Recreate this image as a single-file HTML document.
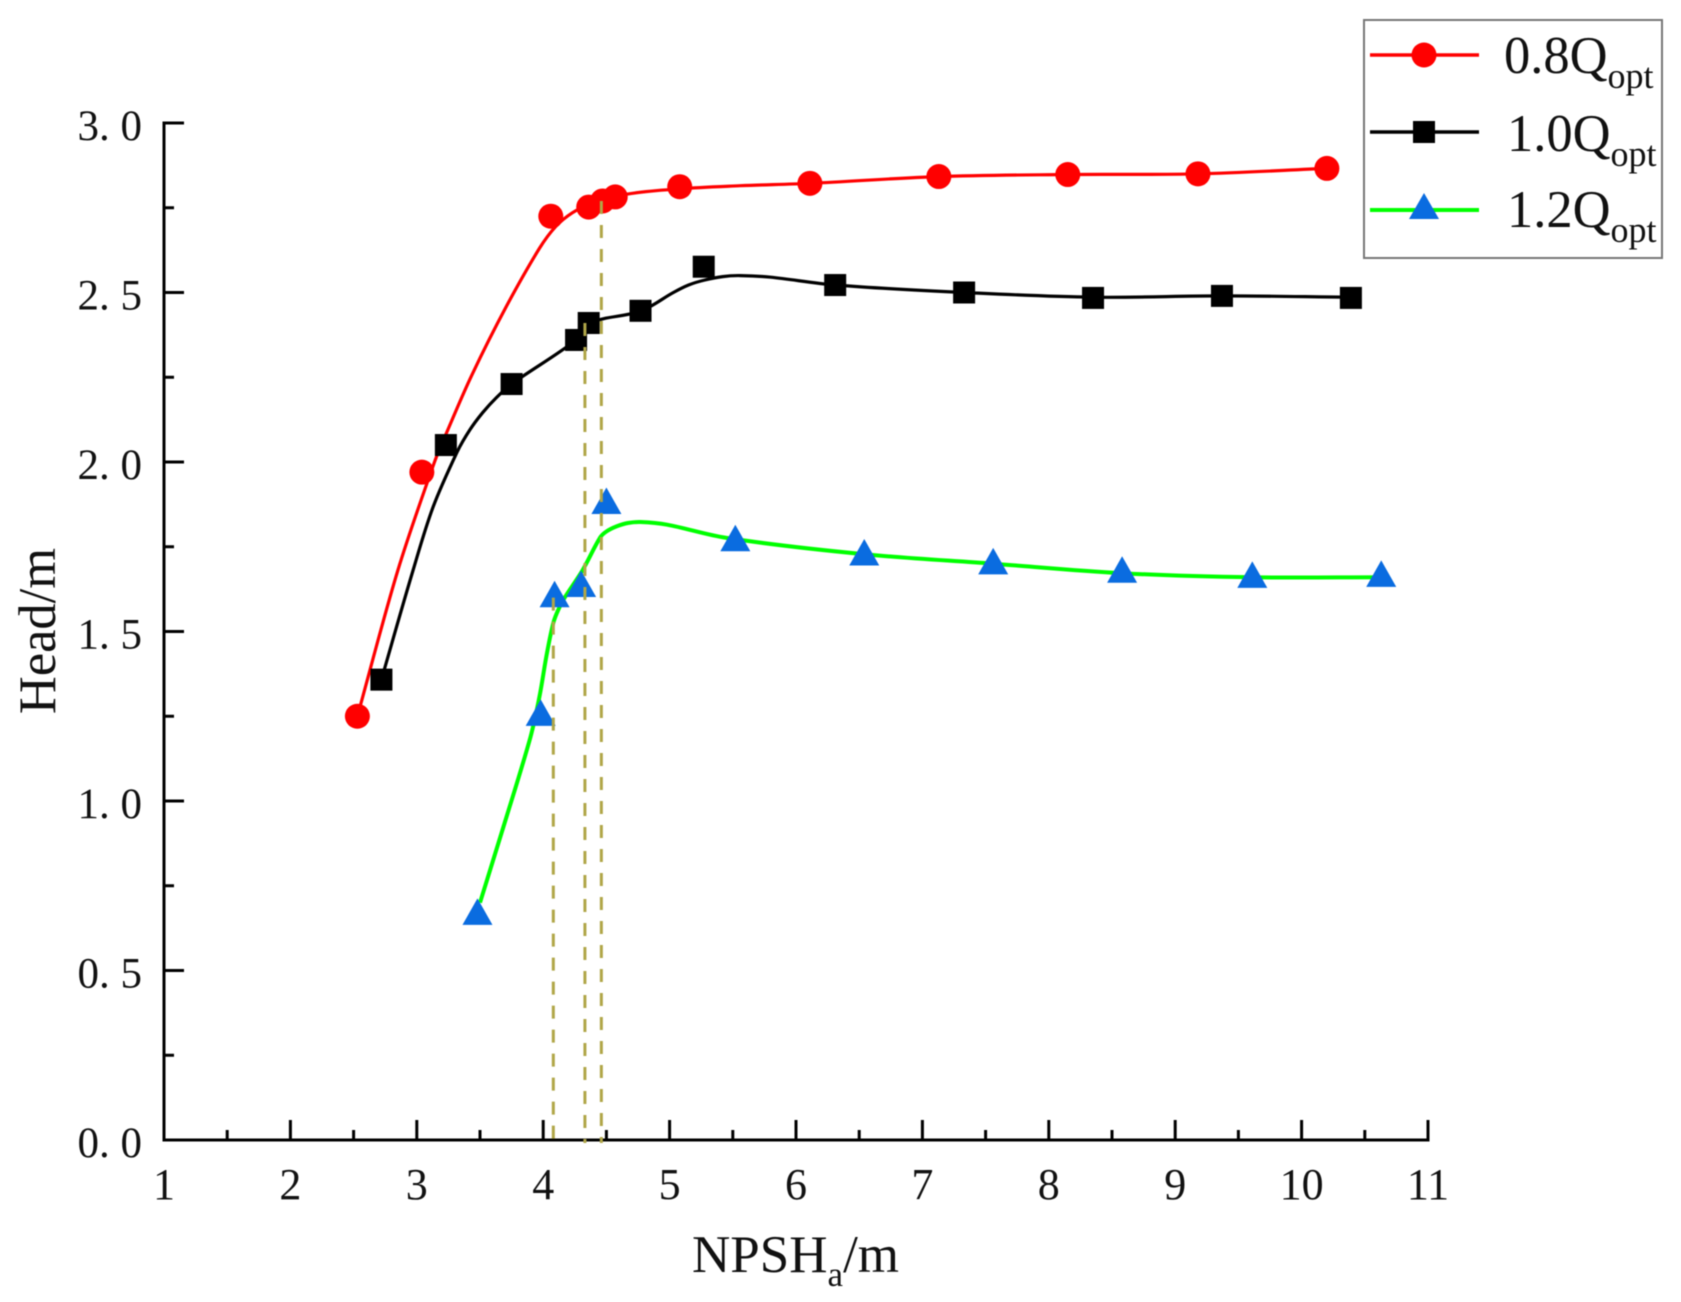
<!DOCTYPE html>
<html lang="en">
<head>
<meta charset="utf-8">
<title>Head versus NPSHa chart</title>
<style>
html,body{margin:0;padding:0;background:#fff;}
body{width:1681px;height:1302px;overflow:hidden;}
svg{display:block;filter:blur(0.5px);}
text{font-family:"Liberation Serif",serif;fill:#111;}
</style>
</head>
<body>
<svg id="chart" xmlns="http://www.w3.org/2000/svg" width="1681" height="1302" viewBox="0 0 1681 1302">
  <rect x="0" y="0" width="1681" height="1302" fill="#ffffff"/>
  <g id="axes"></g>
  <g id="series"></g>
  <g id="guides"></g>
  <text transform="translate(55,631) rotate(-90)" text-anchor="middle" font-size="52.5">Head/m</text>
  <text x="692" y="1272" font-size="53">NPSH<tspan font-size="35" dy="14">a</tspan><tspan dy="-14">/m</tspan></text>
  <g>
    <rect x="1364" y="20" width="298" height="238" fill="#ffffff" stroke="#777777" stroke-width="2"/>
    <g>
      <line x1="1370" y1="55" x2="1479" y2="55" stroke="#ff0000" stroke-width="3.5"/>
      <circle cx="1424" cy="55" r="12.5" fill="#ff0000"/>
      <text x="1504" y="73" font-size="52.5">0.8Q<tspan font-size="36" dy="15">opt</tspan></text>
    </g>
    <g>
      <line x1="1370" y1="132" x2="1479" y2="132" stroke="#000000" stroke-width="3.5"/>
      <rect x="1413" y="121" width="22" height="22" fill="#000000"/>
      <text x="1507" y="151" font-size="52.5">1.0Q<tspan font-size="36" dy="15">opt</tspan></text>
    </g>
    <g>
      <line x1="1370" y1="210" x2="1479" y2="210" stroke="#00ff00" stroke-width="4"/>
      <polygon points="1424,193 1439,219 1409,219" fill="#0a6ce0"/>
      <text x="1507" y="227" font-size="52.5">1.2Q<tspan font-size="36" dy="15">opt</tspan></text>
    </g>
  </g>
</svg>
<script>
const xTicks = [1, 2, 3, 4, 5, 6, 7, 8, 9, 10, 11];
const xTickLabels = ['1', '2', '3', '4', '5', '6', '7', '8', '9', '10', '11'];
const xMinorTicks = [1.5, 2.5, 3.5, 4.5, 5.5, 6.5, 7.5, 8.5, 9.5, 10.5];
const yTicks = [0, 0.5, 1, 1.5, 2, 2.5, 3];
const yTickLabels = ['0. 0', '0. 5', '1. 0', '1. 5', '2. 0', '2. 5', '3. 0'];
const yMinorTicks = [0.25, 0.75, 1.25, 1.75, 2.25, 2.75];

const redX = [2.53, 3.04, 4.06, 4.36, 4.47, 4.57, 5.08, 6.11, 7.13, 8.15, 9.18, 10.2];
const redY = [1.25, 1.97, 2.725, 2.752, 2.77, 2.782, 2.812, 2.822, 2.842, 2.848, 2.85, 2.866];
const blackX = [2.72, 3.23, 3.75, 4.26, 4.36, 4.77, 5.27, 6.31, 7.33, 8.35, 9.37, 10.39];
const blackY = [1.358, 2.05, 2.23, 2.36, 2.41, 2.446, 2.576, 2.522, 2.5, 2.484, 2.49, 2.484];
const greenX = [3.48, 3.98, 4.09, 4.30, 4.50, 5.52, 6.54, 7.56, 8.58, 9.61, 10.63];
const greenY = [0.673, 1.26, 1.61, 1.64, 1.885, 1.775, 1.733, 1.707, 1.682, 1.667, 1.67];

const redFitX = [2.53, 2.85, 3.14, 3.24, 3.44, 3.71, 3.97, 4.10, 4.23, 4.37, 4.66, 5.08, 5.56, 6.11, 7.13, 8.15, 9.18, 10.2];
const redFitY = [1.25, 1.68, 2.00, 2.09, 2.26, 2.46, 2.63, 2.695, 2.735, 2.76, 2.79, 2.806, 2.815, 2.822, 2.842, 2.848, 2.85, 2.866];
const blackFitX = [2.72, 2.97, 3.13, 3.32, 3.42, 3.52, 3.63, 3.75, 4.26, 4.37, 4.77, 5.03, 5.15, 5.28, 5.42, 5.56, 5.8, 6.31, 7.33, 8.35, 9.37, 10.39];
const blackFitY = [1.358, 1.68, 1.868, 2.03, 2.095, 2.145, 2.19, 2.23, 2.36, 2.41, 2.445, 2.5, 2.522, 2.537, 2.547, 2.55, 2.545, 2.522, 2.5, 2.486, 2.49, 2.486];
const greenFitX = [3.50, 3.71, 3.90, 3.97, 4.03, 4.08, 4.12, 4.17, 4.31, 4.45, 4.50, 4.58, 4.67, 4.77, 4.98, 5.45, 6.54, 7.56, 8.58, 9.61, 10.63];
const greenFitY = [0.70, 0.953, 1.19, 1.307, 1.437, 1.525, 1.565, 1.60, 1.68, 1.777, 1.795, 1.81, 1.82, 1.823, 1.815, 1.776, 1.728, 1.70, 1.672, 1.66, 1.66];

const guideX = [4.08, 4.33, 4.46];
const guideTop = [1.6, 2.41, 2.77];

const NS = 'http://www.w3.org/2000/svg';
function xScale(v) { return 164 + (v - 1) * (1428 - 164) / 10; }
function yScale(v) { return 1140 - v * (1140 - 123) / 3; }
function make(tag, parent, attrs) {
  const el = document.createElementNS(NS, tag);
  for (const k in attrs) el.setAttribute(k, attrs[k]);
  parent.appendChild(el);
  return el;
}
function curvePath(xs, ys) {
  const p = xs.map(function (x, i) { return [xScale(x), yScale(ys[i])]; });
  let d = 'M' + p[0][0].toFixed(1) + ' ' + p[0][1].toFixed(1);
  for (let i = 0; i < p.length - 1; i++) {
    const a = p[Math.max(i - 1, 0)], b = p[i], c = p[i + 1], e = p[Math.min(i + 2, p.length - 1)];
    const len = Math.hypot(c[0] - b[0], c[1] - b[1]);
    const l1 = Math.hypot(c[0] - a[0], c[1] - a[1]) || 1;
    const l2 = Math.hypot(e[0] - b[0], e[1] - b[1]) || 1;
    const c1x = b[0] + (c[0] - a[0]) / l1 * len / 3, c1y = b[1] + (c[1] - a[1]) / l1 * len / 3;
    const c2x = c[0] - (e[0] - b[0]) / l2 * len / 3, c2y = c[1] - (e[1] - b[1]) / l2 * len / 3;
    d += 'C' + c1x.toFixed(1) + ' ' + c1y.toFixed(1) + ' ' + c2x.toFixed(1) + ' ' + c2y.toFixed(1) + ' ' + c[0].toFixed(1) + ' ' + c[1].toFixed(1);
  }
  return d;
}

const axes = document.getElementById('axes');
const seriesGroup = document.getElementById('series');
const guides = document.getElementById('guides');
const axisStyle = { stroke: '#000', 'stroke-width': 3, fill: 'none' };

const xAxisLine = make('line', axes, Object.assign({ x1: xScale(1) - 1.5, y1: yScale(0), x2: xScale(11) + 1.5, y2: yScale(0) }, axisStyle));


const yAxisLine = make('line', axes, Object.assign({ x1: xScale(1), y1: yScale(0), x2: xScale(1), y2: yScale(3) - 1.5 }, axisStyle));



xTicks.forEach(function (v, i) {
  const tick = make('line', axes, Object.assign({ x1: xScale(v), y1: yScale(0), x2: xScale(v), y2: yScale(0) - 20 }, axisStyle));
  
  
  const label = make('text', axes, { x: xScale(v), y: 1199, 'text-anchor': 'middle', 'font-size': 44 });
  label.textContent = xTickLabels[i];
  
  
});
xMinorTicks.forEach(function (v) {
  const tick = make('line', axes, Object.assign({ x1: xScale(v), y1: yScale(0), x2: xScale(v), y2: yScale(0) - 10 }, axisStyle));
  
  
});
yTicks.forEach(function (v, i) {
  const tick = make('line', axes, Object.assign({ x1: xScale(1), y1: yScale(v), x2: xScale(1) + 20, y2: yScale(v) }, axisStyle));
  
  
  const label = make('text', axes, { x: 142, y: yScale(v) + 17, 'text-anchor': 'end', 'font-size': 43 });
  label.textContent = yTickLabels[i];
  
  
});
yMinorTicks.forEach(function (v) {
  const tick = make('line', axes, Object.assign({ x1: xScale(1), y1: yScale(v), x2: xScale(1) + 10, y2: yScale(v) }, axisStyle));
  
  
});

const redLine = make('path', seriesGroup, { d: curvePath(redFitX, redFitY), fill: 'none', stroke: '#ff0000', 'stroke-width': 3.2 });


const blackLine = make('path', seriesGroup, { d: curvePath(blackFitX, blackFitY), fill: 'none', stroke: '#000000', 'stroke-width': 3.2 });


const greenLine = make('path', seriesGroup, { d: curvePath(greenFitX, greenFitY), fill: 'none', stroke: '#00ff00', 'stroke-width': 4 });



redX.forEach(function (x, i) {
  const m = make('circle', seriesGroup, { cx: xScale(x), cy: yScale(redY[i]), r: 12.5, fill: '#ff0000' });
  
  
});
blackX.forEach(function (x, i) {
  const m = make('rect', seriesGroup, { x: xScale(x) - 11, y: yScale(blackY[i]) - 11, width: 22, height: 22, fill: '#000000' });
  
  
});
greenX.forEach(function (x, i) {
  const cx = xScale(x), cy = yScale(greenY[i]);
  const m = make('polygon', seriesGroup, { points: cx + ',' + (cy - 13.5) + ' ' + (cx + 15) + ',' + (cy + 13) + ' ' + (cx - 15) + ',' + (cy + 13), fill: '#0a6ce0' });
  
  
});

guideX.forEach(function (x, i) {
  const g = make('line', guides, { x1: xScale(x), y1: yScale(guideTop[i]), x2: xScale(x), y2: yScale(0) + 3, stroke: '#b0a648', 'stroke-width': 3, 'stroke-dasharray': '13 11' });
  
  
});
</script>
</body>
</html>
